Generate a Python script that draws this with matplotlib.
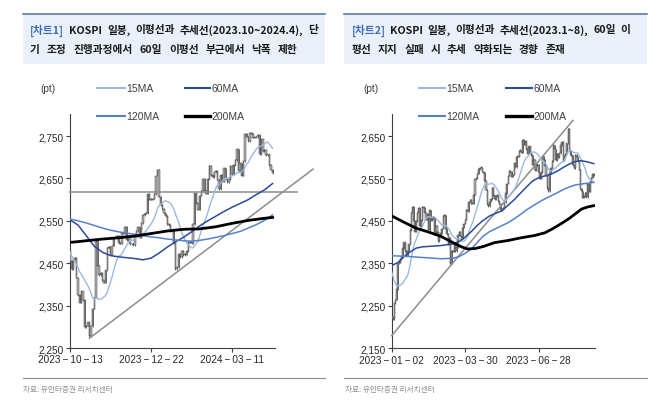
import matplotlib
matplotlib.use('Agg')
import matplotlib.pyplot as plt
import numpy as np
import pandas as pd
from matplotlib.lines import Line2D
from matplotlib.patches import Rectangle

plt.rcParams['font.family'] = ['Liberation Sans', 'DejaVu Sans', 'Noto Sans CJK KR']

# ---------------- Chart 1 data (2023-10-13 .. 2024-04, trading-day index) ----------------
c1_pre = [2574.72, 2559.21, 2559.74, 2514.97, 2508.13, 2495.76, 2462.97, 2465.07,
          2405.69, 2403.60, 2408.73, 2402.58, 2450.08, 2479.82]
c1_close = [
    2456.15, 2436.24, 2460.17, 2462.60, 2415.80, 2375.00, 2357.02, 2383.51, 2363.17, 2299.08,
    2302.81, 2310.55, 2277.99,
    2301.56, 2343.12, 2368.34, 2502.37, 2443.96, 2421.62, 2427.08, 2409.66, 2403.76, 2433.25,
    2486.67, 2488.18, 2469.85, 2491.20, 2510.42, 2511.70, 2514.96, 2496.63, 2495.66, 2521.76,
    2519.97, 2535.29,
    2505.01, 2514.81, 2494.28, 2495.38, 2492.07, 2517.85, 2525.36, 2535.02, 2510.66, 2544.18,
    2563.56, 2566.86, 2568.55, 2614.30, 2600.02, 2599.51, 2602.59, 2613.50, 2655.28,
    2669.81, 2607.31, 2587.02, 2578.08, 2567.82, 2561.24, 2541.98, 2540.27, 2525.05, 2525.99,
    2497.59, 2435.90, 2440.04, 2472.74, 2464.35, 2478.61, 2469.69, 2470.34, 2478.56, 2500.65,
    2498.81, 2497.09,
    2542.46, 2615.31, 2591.31, 2576.20, 2609.58, 2620.32, 2649.64, 2620.42, 2613.80, 2648.76,
    2680.26, 2657.79, 2653.31, 2664.27, 2667.70, 2647.08, 2625.05, 2658.76, 2642.36,
    2674.27, 2649.40, 2641.49, 2647.62, 2680.35, 2660.29, 2681.81, 2693.57, 2718.76, 2666.84,
    2685.84, 2656.17, 2690.14, 2754.86, 2748.56, 2737.57, 2757.09, 2755.11, 2745.82, 2746.63,
    2747.86, 2753.16, 2706.97, 2742.00, 2714.21, 2717.65, 2705.16, 2706.96, 2681.82, 2670.43,
    2662.00]
c1_ma60_x = [0, 5, 10, 15, 20, 25, 30, 35, 40, 45, 50, 55, 60, 65, 70, 75, 80, 85, 90, 95,
             100, 105, 110, 115, 120, 125]
c1_ma60_y = [2552, 2540, 2515, 2490, 2476, 2468, 2465, 2463, 2461, 2458, 2462, 2474, 2488,
             2500, 2511, 2524, 2538, 2550, 2561, 2572, 2582, 2591, 2600, 2612, 2623, 2638]
c1_ma120_x = [0, 5, 10, 15, 20, 25, 30, 35, 40, 45, 50, 55, 60, 65, 70, 75, 80, 85, 90, 95,
              100, 105, 110, 115, 120, 125]
c1_ma120_y = [2554, 2550, 2545, 2539, 2533, 2528, 2524, 2521, 2518, 2515, 2512, 2510, 2507,
              2505, 2503, 2502, 2504, 2507, 2511, 2515, 2520, 2525, 2533, 2541, 2551, 2564]
c1_ma200_x = [0, 10, 20, 30, 40, 50, 60, 70, 80, 90, 100, 110, 120, 125]
c1_ma200_y = [2499, 2503, 2507, 2510, 2514, 2520, 2526, 2530, 2531, 2536, 2544, 2551, 2556, 2558]
c1_trend_x = [12, 150]
c1_trend_y = [2273, 2672]
c1_hline_x = [0, 140]
c1_hline_y = [2619, 2619]
c1_ticks = [0, 50, 100]
c1_ticklabels = ['2023\u2009−\u200910\u2009−\u200913', '2023\u2009−\u200912\u2009−\u200922',
                 '2024\u2009−\u200903\u2009−\u200911']
c1_yticks = [2250, 2350, 2450, 2550, 2650, 2750]

# ---------------- Chart 2 data (2023-01-02 .. 2023-08-31) ----------------
c2_pre = [2372.40, 2399.25, 2373.36, 2361.82, 2360.28, 2352.17, 2333.23, 2328.95,
          2356.73, 2313.69, 2317.14, 2332.79, 2280.45, 2236.40]
c2_close = [
    2225.67, 2218.68, 2255.98, 2264.65, 2289.97, 2350.19, 2351.31, 2359.88, 2365.10, 2386.09,
    2399.86, 2379.39, 2368.32, 2380.34, 2395.26, 2428.57, 2468.65, 2484.02, 2450.47, 2425.08,
    2449.80, 2468.88, 2480.40, 2438.19, 2451.71, 2483.64, 2481.52, 2469.07, 2452.70, 2465.64,
    2427.90, 2475.48, 2451.21, 2455.12, 2458.96, 2417.68, 2439.06, 2423.61, 2402.64, 2412.85,
    2421.56, 2432.07, 2462.65, 2463.35, 2431.91, 2419.09, 2394.59, 2410.60, 2348.97, 2379.72,
    2377.91, 2395.69, 2379.19, 2388.35, 2416.96, 2424.48, 2414.96, 2409.22, 2434.23, 2443.85,
    2453.16, 2476.86,
    2472.34, 2495.22, 2500.40, 2490.41, 2490.59, 2512.08, 2547.86, 2550.64, 2561.66, 2571.49,
    2575.91, 2575.90, 2566.52, 2563.59, 2544.40, 2523.50, 2489.02, 2484.83, 2495.81, 2501.53,
    2528.69, 2510.06, 2500.94, 2509.06, 2510.32, 2496.51, 2491.00, 2475.42, 2479.35, 2480.24,
    2494.66, 2515.56, 2537.79, 2557.08, 2568.11, 2565.99, 2554.69, 2558.81, 2585.52, 2577.12,
    2601.36, 2601.20, 2615.41, 2615.60, 2610.96, 2641.16, 2629.35, 2637.95, 2619.08, 2608.54,
    2625.79, 2609.50, 2604.91, 2582.63, 2593.70, 2570.10, 2582.20, 2581.71, 2564.19, 2550.01,
    2564.28,
    2602.47, 2593.31, 2579.00, 2556.29, 2526.71, 2520.70, 2562.49, 2574.72, 2591.29, 2628.30,
    2619.00, 2593.05, 2608.24, 2599.97, 2609.76, 2628.29, 2636.46, 2592.36, 2603.81, 2608.32,
    2632.58,
    2667.07, 2616.47, 2605.39, 2602.80, 2580.71, 2573.98, 2605.12, 2601.56, 2591.26, 2570.87,
    2525.64, 2519.85, 2504.50, 2508.80, 2515.74, 2505.50, 2537.68, 2519.14, 2543.41, 2552.16,
    2561.22, 2556.27]
c2_ma60_x = [0, 5, 10, 15, 20, 25, 30, 40, 50, 55, 60, 65, 70, 75, 80, 85, 90, 95, 100, 105,
             110, 115, 120, 125, 130, 135, 140, 145, 150, 155, 160, 165]
c2_ma60_y = [2345, 2352, 2366, 2377, 2386, 2389, 2390, 2392, 2396, 2401, 2412, 2425, 2440,
             2452, 2462, 2468, 2474, 2487, 2500, 2515, 2530, 2544, 2552, 2556, 2560, 2567,
             2576, 2584, 2590, 2592, 2589, 2585]
c2_ma120_x = [0, 10, 20, 30, 40, 50, 55, 60, 65, 70, 75, 80, 85, 90, 95, 100, 105, 110, 115,
              120, 125, 130, 135, 140, 145, 150, 155, 160, 165]
c2_ma120_y = [2368, 2367, 2365, 2363, 2361, 2362, 2366, 2374, 2384, 2400, 2415, 2425, 2432,
              2439, 2446, 2455, 2465, 2476, 2485, 2494, 2502, 2509, 2516, 2524, 2530, 2535,
              2537, 2539, 2541]
c2_ma200_x = [0, 10, 20, 30, 40, 50, 57, 62, 68, 75, 84, 95, 105, 117, 125, 131, 138, 145,
              150, 155, 160, 165]
c2_ma200_y = [2462, 2447, 2433, 2424, 2414, 2399, 2389, 2384, 2385, 2390, 2399, 2404, 2410,
              2416, 2422, 2431, 2443, 2456, 2467, 2478, 2483, 2486]
c2_trend_x = [0, 148]
c2_trend_y = [2180, 2687]
c2_ticks = [0, 60, 120]
c2_ticklabels = ['2023\u2009−\u200901\u2009−\u200902', '2023\u2009−\u200903\u2009−\u200930',
                 '2023\u2009−\u200906\u2009−\u200928']
c2_yticks = [2150, 2250, 2350, 2450, 2550, 2650]

ma_names = ['15MA', '60MA', '120MA', '200MA']
ma_colors = ['#9ab8e0', '#2b4a9b', '#5581cc', '#000000']
ma_widths = [1.0, 1.1, 1.1, 2.0]

W, H = 670, 414
fig = plt.figure(figsize=(W / 100, H / 100), dpi=100)


def fx(px):
    return px / W


def fy(py):
    return 1 - py / H


def panel(ax_box, pre, close, ma60, ma120, ma200, trends, ticks, ticklabels, yticks, ylim, xmax):
    ax = fig.add_axes(ax_box)
    idx = np.arange(len(close))
    opens = np.array([pre[-1]] + close[:-1])
    cl = np.array(close)
    lo = np.minimum(opens, cl)
    hi = np.maximum(opens, cl)
    hgt = np.maximum(hi - lo, 2.0)
    ax.vlines(idx, lo - 1.5, lo + hgt + 1.5, color='#3a3a3a', lw=0.5, zorder=2)
    ax.bar(idx, hgt, bottom=lo, width=0.85, facecolor='#b5b5b5', edgecolor='#3a3a3a',
           linewidth=0.35, zorder=3)
    full = pd.Series(list(pre) + list(close))
    ma15 = full.rolling(15).mean().to_numpy()[len(pre):]
    ax.plot(idx, ma15, color=ma_colors[0], lw=ma_widths[0], zorder=4)
    ax.plot(ma60[0], ma60[1], color=ma_colors[1], lw=ma_widths[1], zorder=4)
    ax.plot(ma120[0], ma120[1], color=ma_colors[2], lw=ma_widths[2], zorder=4)
    ax.plot(ma200[0], ma200[1], color=ma_colors[3], lw=ma_widths[3], zorder=5)
    for tx, ty in trends:
        ax.plot(tx, ty, color='#8c8c8c', lw=1.1, zorder=3, clip_on=False)
    ax.set_xlim(0, xmax)
    ax.set_ylim(*ylim)
    ax.set_xticks(ticks)
    ax.set_xticklabels(ticklabels)
    ax.set_yticks(yticks)
    ax.set_yticklabels([f'{v:,}' for v in yticks])
    for s in ['top', 'right']:
        ax.spines[s].set_visible(False)
    for s in ['left', 'bottom']:
        ax.spines[s].set_color('#404040')
        ax.spines[s].set_linewidth(0.8)
    ax.tick_params(axis='both', direction='out', length=3, width=0.8, color='#404040',
                   labelsize=7.2, labelcolor='#262626', pad=1.5)
    return ax


panel([fx(70), 1 - 349 / H, fx(275) - fx(70), (349 - 115) / H], c1_pre, c1_close,
      (c1_ma60_x, c1_ma60_y), (c1_ma120_x, c1_ma120_y), (c1_ma200_x, c1_ma200_y),
      [(c1_hline_x, c1_hline_y), (c1_trend_x, c1_trend_y)],
      c1_ticks, c1_ticklabels, c1_yticks, (2250, 2802), 126.5)
panel([fx(391.7), 1 - 349.3 / H, fx(595) - fx(391.7), (349.3 - 115) / H], c2_pre, c2_close,
      (c2_ma60_x, c2_ma60_y), (c2_ma120_x, c2_ma120_y), (c2_ma200_x, c2_ma200_y),
      [(c2_trend_x, c2_trend_y)],
      c2_ticks, c2_ticklabels, c2_yticks, (2150, 2702), 166)

# ---------------- header boxes, titles ----------------
renderer = fig.canvas.get_renderer()
title_font = ['Noto Sans CJK KR', 'DejaVu Sans']
TFS = 7.7


def justified(words, x0, x1, y):
    objs = []
    for w, col in words:
        t = fig.text(fx(x0), fy(y), w, fontsize=TFS, fontweight='bold', color=col,
                     family=title_font, va='center', ha='left')
        objs.append(t)
    widths = [t.get_window_extent(renderer).width for t in objs]
    gap = (x1 - x0 - sum(widths)) / max(len(objs) - 1, 1)
    x = x0
    for t, wd in zip(objs, widths):
        t.set_position((fx(x), fy(y)))
        x += wd + gap


BLUE_T = '#3c6db3'
DARK_T = '#1a1a1a'
boxes = [(23.3, 325), (344, 646.7)]
for (bx0, bx1) in boxes:
    fig.add_artist(Rectangle((fx(bx0), fy(65)), fx(bx1) - fx(bx0), (65 - 15) / H,
                             transform=fig.transFigure, facecolor='#e9f0f9', edgecolor='none'))
    fig.add_artist(Line2D([fx(bx0), fx(bx1)], [fy(15), fy(15)], transform=fig.transFigure,
                          color='#5b7ba6', lw=1.2))
    fig.add_artist(Line2D([fx(bx0), fx(bx1)], [fy(379), fy(379)], transform=fig.transFigure,
                          color='#8c8c8c', lw=0.8))

justified([('[차트1]', BLUE_T), ('KOSPI', DARK_T), ('일봉,', DARK_T), ('이평선과', DARK_T),
           ('추세선(2023.10~2024.4),', DARK_T), ('단', DARK_T)], 30, 318, 30.5)
justified([(w, DARK_T) for w in '기 조정 진행과정에서 60일 이평선 부근에서 낙폭 제한'.split()],
          30, 298, 50)
justified([('[차트2]', BLUE_T), ('KOSPI', DARK_T), ('일봉,', DARK_T), ('이평선과', DARK_T),
           ('추세선(2023.1~8),', DARK_T), ('60일', DARK_T), ('이', DARK_T)], 351.7, 630, 30.5)
justified([(w, DARK_T) for w in '평선 지지 실패 시 추세 약화되는 경향 존재'.split()],
          351.7, 565, 50)

# ---------------- legends ----------------
def legend(xpt, xa, xb):
    fig.text(fx(xpt), fy(88.5), '(pt)', fontsize=7.3, color='#404040', va='center', ha='left')
    rows = [(88.5, 0, 1), (116.7, 2, 3)]
    for yy, i, j in rows:
        for k, (l0, l1) in zip((i, j), (xa, xb)):
            fig.add_artist(Line2D([fx(l0), fx(l1)], [fy(yy), fy(yy)], transform=fig.transFigure,
                                  color=ma_colors[k], lw=ma_widths[k] + 0.4))
            fig.text(fx(l1 + 1.5), fy(yy), ma_names[k], fontsize=7.5, color='#404040',
                     va='center', ha='left')


legend(40, (97.3, 125), (185, 210))
legend(363.3, (419, 445), (505.7, 531.7))

for sx in (23.3, 345):
    fig.text(fx(sx), fy(390), '자료: 유안타증권 리서치센터', fontsize=5.5, color='#909090',
             family=title_font, va='center', ha='left')

fig.savefig('out.png', dpi=100)
